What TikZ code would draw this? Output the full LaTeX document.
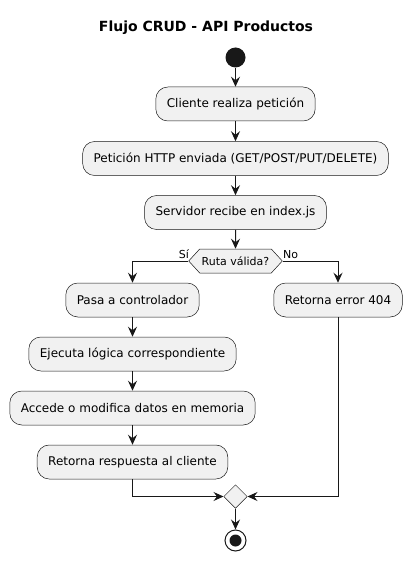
\documentclass[tikz,border=0pt]{standalone}
\usepackage{fontspec}
\setmainfont{DejaVu Sans}
\usetikzlibrary{arrows.meta,shapes.geometric,shapes.symbols}
\definecolor{boxfill}{HTML}{F1F1F1}
\definecolor{ink}{HTML}{181818}
\tikzset{
  act/.style={draw=ink, line width=0.5pt, fill=boxfill, rounded corners=12pt,
    minimum height=34pt, inner xsep=11pt, font=\fontsize{12}{14}\selectfont, text=black},
  flow/.style={draw=ink, line width=1pt, -{Stealth[length=10pt,width=9pt,inset=3.5pt]}},
  plain/.style={draw=ink, line width=1pt},
  decis/.style={draw=ink, line width=0.5pt, fill=boxfill, signal, signal to=west and east,
    signal pointer angle=95, minimum height=24pt, inner xsep=2pt, inner ysep=0pt,
    font=\fontsize{11}{13}\selectfont},
  merge/.style={draw=ink, line width=0.5pt, fill=boxfill, diamond, minimum width=23.5pt,
    minimum height=23.5pt, inner sep=0pt},
  lbl/.style={font=\fontsize{11}{13}\selectfont, inner sep=0pt}
}
\begin{document}
\begin{tikzpicture}[x=1pt,y=-1pt]
\useasboundingbox (0,0) rectangle (412,561);
\node[font=\bfseries\fontsize{14}{16}\selectfont] (title) at (206,28) {Flujo CRUD - API Productos};
\node[circle, fill=ink, minimum size=20pt, inner sep=0pt] (start) at (235.5,57.5) {};
\node[act] (a1) at (235.5,104) {Cliente realiza petición};
\node[act] (a2) at (235.5,158.5) {Petición HTTP enviada (GET/POST/PUT/DELETE)};
\node[act] (a3) at (235.5,212.5) {Servidor recibe en index.js};
\node[decis] (d) at (235.5,261) {Ruta válida?};
\node[act] (l1) at (132.5,300) {Pasa a controlador};
\node[act] (r1) at (338,300) {Retorna error 404};
\node[act] (l2) at (132.5,354) {Ejecuta lógica correspondiente};
\node[act] (l3) at (132.5,408) {Accede o modifica datos en memoria};
\node[act] (l4) at (132.5,462) {Retorna respuesta al cliente};
\node[merge] (m) at (235.5,496.5) {};
\node[circle, draw=ink, line width=1pt, fill=white, minimum size=21pt, inner sep=0pt] (stop) at (235.5,540.5) {};
\node[circle, fill=ink, minimum size=12pt, inner sep=0pt] (stopin) at (235.5,540.5) {};
\node[lbl, anchor=south east] (si) at (189,259) {Sí};
\node[lbl, anchor=south west] (no) at (283,259) {No};
\draw[flow] (start) -- (a1);
\draw[flow] (a1) -- (a2);
\draw[flow] (a2) -- (a3);
\draw[flow] (a3) -- (d);
\draw[flow] (d.west) -| (l1.north);
\draw[flow] (d.east) -| (r1.north);
\draw[flow] (l1) -- (l2);
\draw[flow] (l2) -- (l3);
\draw[flow] (l3) -- (l4);
\draw[flow] (l4.south) |- (m.west);
\draw[flow] (r1.south) |- (m.east);
\draw[flow] (m) -- (stop);
\end{tikzpicture}
\end{document}
